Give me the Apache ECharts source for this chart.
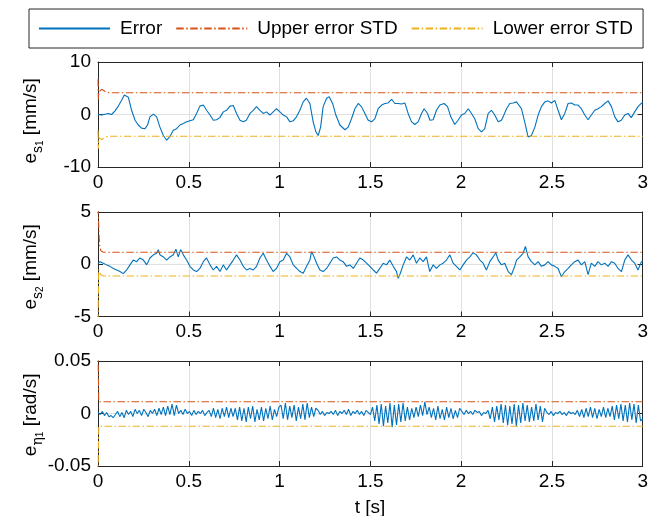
<!DOCTYPE html>
<html>
<head>
<meta charset="utf-8">
<script src="https://cdn.jsdelivr.net/npm/echarts@6/dist/echarts.min.js"></script>
<style>
  html, body { margin: 0; padding: 0; background: #fff; }
  #chart { width: 651px; height: 516px; }
</style>
</head>
<body>
<div id="chart"></div>
<script>
// ---- e_s1 velocity error [mm/s] ----
const s1Time = [0, 0.006, 0.020, 0.039, 0.057, 0.075, 0.094, 0.112, 0.130, 0.145, 0.152, 0.167, 0.185, 0.204, 0.222, 0.240, 0.259, 0.273, 0.286, 0.305, 0.323, 0.341, 0.360, 0.378, 0.396, 0.415, 0.433, 0.451, 0.470, 0.488, 0.506, 0.525, 0.543, 0.561, 0.580, 0.598, 0.617, 0.635, 0.653, 0.671, 0.690, 0.708, 0.727, 0.745, 0.763, 0.782, 0.800, 0.817, 0.837, 0.855, 0.873, 0.892, 0.910, 0.928, 0.947, 0.965, 0.983, 1.002, 1.020, 1.039, 1.057, 1.075, 1.093, 1.112, 1.130, 1.148, 1.167, 1.185, 1.200, 1.213, 1.226, 1.240, 1.259, 1.273, 1.292, 1.310, 1.332, 1.360, 1.378, 1.396, 1.415, 1.433, 1.451, 1.470, 1.488, 1.507, 1.525, 1.543, 1.562, 1.580, 1.598, 1.617, 1.635, 1.653, 1.672, 1.690, 1.708, 1.727, 1.745, 1.763, 1.782, 1.796, 1.815, 1.828, 1.846, 1.864, 1.883, 1.906, 1.925, 1.943, 1.965, 1.983, 2.002, 2.020, 2.039, 2.057, 2.075, 2.094, 2.112, 2.130, 2.149, 2.167, 2.185, 2.204, 2.222, 2.231, 2.250, 2.268, 2.286, 2.305, 2.314, 2.332, 2.350, 2.369, 2.387, 2.406, 2.424, 2.442, 2.461, 2.479, 2.497, 2.516, 2.534, 2.552, 2.571, 2.589, 2.607, 2.626, 2.644, 2.662, 2.681, 2.699, 2.717, 2.736, 2.754, 2.772, 2.791, 2.809, 2.828, 2.846, 2.864, 2.882, 2.901, 2.919, 2.937, 2.956, 2.974, 2.992, 3.0];
const s1Err = [0.0, 0.2, -0.1, 0.06, 0.2, 0.0, 0.7, 1.6, 2.7, 3.7, 4.0, 3.3, 0.8, -1.1, -2.0, -2.6, -2.7, -2.0, -0.45, 0.06, -0.45, -2.4, -4.0, -4.9, -4.2, -3.0, -2.7, -2.0, -1.7, -1.4, -1.2, -1.0, 0.2, 1.6, 1.8, 0.8, -0.1, -1.1, -1.0, -0.6, 0.5, 0.8, 1.6, 1.7, 0.2, -1.1, -1.4, -1.1, 0.2, 0.8, 1.5, 0.8, 0.2, 0.5, -0.1, 0.5, 1.1, 0.5, -0.1, -0.45, -1.4, -1.2, -0.45, 0.8, 2.4, 3.1, 2.1, -1.4, -3.3, -4.0, -2.4, 1.5, 3.1, 3.4, 2.1, -0.1, -2.0, -2.9, -2.4, -0.8, 1.1, 2.1, 1.5, 0.2, -1.1, -1.4, -0.8, 1.1, 1.8, 2.1, 2.2, 2.9, 2.1, 2.1, 2.0, 2.2, 0.2, -1.4, -1.9, -1.4, 0.2, 1.1, 0.2, -1.1, -1.0, 0.8, 1.8, 2.1, 1.5, -0.45, -1.9, -1.1, -0.1, 0.2, 1.1, 0.2, -0.8, -2.7, -3.3, -2.7, 0.2, 0.8, -0.1, -1.4, -1.1, -0.45, 1.1, 2.1, 2.2, 2.4, 2.1, 1.1, -1.4, -4.3, -4.0, -2.4, -0.1, 1.5, 2.4, 2.6, 2.2, 2.7, 0.8, -1.0, 0.2, 2.1, 2.2, 1.8, 1.8, 1.1, -0.1, -1.0, -0.1, 0.8, 1.1, 1.5, 2.1, 2.6, 1.5, -0.45, -1.4, -1.1, -0.1, 0.2, -0.6, 0.5, 1.5, 2.1, 2.3];
const s1UpperTime = [0, 0.002, 0.006, 0.020, 0.040, 0.060, 3.0];
const s1Upper = [6.7, 2.9, 4.3, 4.8, 4.4, 4.15, 4.15];
const s1LowerTime = [0, 0.002, 0.006, 0.020, 0.040, 0.060, 3.0];
const s1Lower = [-3.0, -6.5, -4.4, -4.8, -4.3, -4.15, -4.15];

// ---- e_s2 velocity error [mm/s] ----
const s2Time = [0, 0.011, 0.029, 0.048, 0.066, 0.084, 0.103, 0.121, 0.139, 0.158, 0.176, 0.194, 0.213, 0.231, 0.250, 0.268, 0.286, 0.305, 0.323, 0.332, 0.341, 0.360, 0.378, 0.396, 0.415, 0.429, 0.442, 0.455, 0.470, 0.488, 0.506, 0.525, 0.543, 0.561, 0.580, 0.598, 0.617, 0.635, 0.653, 0.672, 0.690, 0.708, 0.727, 0.745, 0.763, 0.782, 0.800, 0.818, 0.837, 0.855, 0.873, 0.892, 0.910, 0.928, 0.947, 0.965, 0.983, 1.002, 1.020, 1.039, 1.048, 1.057, 1.075, 1.094, 1.112, 1.130, 1.149, 1.167, 1.176, 1.185, 1.204, 1.222, 1.240, 1.259, 1.277, 1.295, 1.314, 1.332, 1.350, 1.369, 1.387, 1.406, 1.424, 1.442, 1.461, 1.479, 1.497, 1.516, 1.534, 1.552, 1.571, 1.589, 1.607, 1.626, 1.644, 1.653, 1.662, 1.681, 1.699, 1.717, 1.736, 1.754, 1.772, 1.791, 1.809, 1.827, 1.846, 1.864, 1.883, 1.901, 1.919, 1.938, 1.956, 1.974, 1.993, 2.011, 2.029, 2.048, 2.066, 2.084, 2.103, 2.121, 2.139, 2.158, 2.176, 2.191, 2.204, 2.222, 2.240, 2.259, 2.277, 2.295, 2.305, 2.323, 2.341, 2.354, 2.369, 2.387, 2.406, 2.424, 2.442, 2.461, 2.479, 2.497, 2.516, 2.534, 2.552, 2.571, 2.589, 2.607, 2.626, 2.644, 2.662, 2.681, 2.699, 2.717, 2.736, 2.754, 2.772, 2.791, 2.809, 2.828, 2.846, 2.864, 2.883, 2.901, 2.919, 2.938, 2.956, 2.974, 2.993, 3.0];
const s2Err = [0.05, 0.25, 0.1, -0.06, -0.2, -0.4, -0.55, -0.7, -0.9, -0.55, -0.06, 0.4, 0.25, 0.6, 0.4, -0.06, 0.6, 0.9, 1.05, 1.4, 0.9, 0.7, 0.4, 0.7, 0.9, 1.45, 0.7, 1.4, 0.9, 0.4, -0.2, -0.55, -0.7, -0.4, 0.25, 0.6, -0.06, -0.55, -0.2, -0.7, -0.06, -0.55, -0.06, 0.4, 0.9, 0.4, -0.2, -0.55, -0.4, -0.55, -0.2, 0.6, 1.05, 0.4, -0.2, -0.7, -0.4, 0.25, 0.4, 1.05, 1.2, 0.7, -0.06, -0.4, -0.7, -0.85, -0.2, 0.4, 1.2, 0.9, 0.1, -0.55, -0.7, -0.4, 0.1, 0.6, 0.7, 0.4, 0.25, -0.2, -0.06, -0.4, 0.1, 0.6, 0.4, 0.1, -0.2, -0.55, -0.85, -0.4, 0.1, -0.06, 0.4, -0.2, -0.7, -1.35, -1.0, -0.06, 0.7, 0.4, 0.9, 0.1, 0.6, 0.25, 0.7, -0.7, -0.06, -0.4, -0.06, 0.1, 0.4, 0.9, 0.1, -0.2, -0.55, -0.06, 0.4, 0.7, 1.1, 0.9, 0.4, 0.1, -0.55, 0.25, 0.7, 1.1, 0.4, -0.06, 0.1, -0.7, -1.0, -0.2, 0.4, 0.7, 1.05, 1.7, 0.7, 0.25, -0.06, 0.25, -0.2, -0.06, 0.25, -0.06, -0.2, -0.4, -1.2, -0.7, -0.4, -0.06, 0.25, 0.4, -0.06, 0.25, -1.0, 0.1, -0.2, 0.25, -0.06, 0.1, -0.2, 0.25, 0.1, -0.4, -0.7, 0.4, 0.9, 0.4, 0.1, -0.55, 0.25, 0.3];
const s2UpperTime = [0, 0.008, 0.015, 0.030, 3.0];
const s2Upper = [5.5, 2.0, 1.3, 1.15, 1.15];
const s2LowerTime = [0, 0.004, 0.015, 0.030, 3.0];
const s2Lower = [-5.5, -0.5, -1.0, -1.12, -1.12];

// ---- e_eta1 angular velocity error, in 1e-3 rad/s, sampled every etaStep seconds ----
const etaStep = 0.012;
const etaErrMilli = [
  1, -1, 2, -2, 1, -3, -2, -4, -1,
  2, -3, 1, -4, 3, -1, 2, -3, 4, 0, 3, -2, 4, 1, -3, 3, 0,
  4, -2, 5, -1, 6, -2, 7, -1, 9, -2, 8, 0,
  3, -1, 4, 0, 2, -2, 3, -1, 2, 0, 3, -2, 1,
  3, -3, 5, -4, 4, -5, 5, -3, 6, -4, 5, -3,
  5, -6, 6, -7, 5, -8, 6, -5, 7, -8, 4, -6, 6, -7, 5, -5, 7, -6, 4, -3, 6,
  8, -5, 10, -6, 7, -4, 8, -7, 6, -5, 9, -6, 10, -4, 6, -3, 5,
  3, -1, 2, -2, 1, 0, 2, -1, 3, -2, 2, 0, 3, -1, 4, -2, 2, 0, 3, -1, 2, -2, 3,
  1, -1,
  6, -7, 8, -10, 9, -12, 7, -9, 10, -13, 8, -11, 9, -8, 10, -7, 6, -6,
  5, -4, 6, -3, 8, -2, 11, -1,
  6, -4, 5, -6, 7, -5, 4, -6, 6, -4, 5, -5, 3, -4, 5,
  2, -1, 3, 0, 2, -1, 3, 1, 2, -2, 1, 0,
  3, -5, 6, -8, 7, -6, 9, -9, 8, -11, 7, -10, 9, -12, 8, -9, 10, -7, 8, -8, 6, -7, 9, -6, 7, -8, 5,
  1, -1, 2, -2, 1, 0, 2, -1, 1, -2, 2, 0, 1, -1,
  3, -3, 4, -4, 5, -3, 6, -4, 5, -5, 4, -3, 6, -4, 5, -3,
  7, -6, 8, -5, 9, -7, 8, -8, 10, -6, 9, -9, 8, -7, -5
];
const etaUpperTime = [0, 0.004, 3.0];
const etaUpper = [0.06, 0.0112, 0.0112];
const etaLowerTime = [0, 0.004, 3.0];
const etaLower = [-0.06, -0.0122, -0.0122];

// ---- axes ----
const xTicks = { min: 0, max: 3, interval: 0.5 };
const yRanges = [
  { min: -10, max: 10, interval: 10 },
  { min: -5, max: 5, interval: 5 },
  { min: -0.05, max: 0.05, interval: 0.05 }
];
const seriesNames = ['Error', 'Upper error STD', 'Lower error STD'];

// ---- styling ----
const FONT = '"Liberation Sans", Arial, Helvetica, sans-serif';
const FS = 19;
const AXIS_COLOR = '#262626';
const GRID_COLOR = '#e0e0e0';
const COLORS = ['#0072BD', '#D95319', '#EDB120'];
const DASH_DOT = [7.5, 2.5, 1.5, 2.5];

const zip = (t, v) => t.map((x, i) => [x, v[i]]);
const etaTime = etaErrMilli.map((_, i) => Math.min(3, i * etaStep));
const etaErr = etaErrMilli.map(v => v / 1000);

const panels = [
  { err: zip(s1Time, s1Err), up: zip(s1UpperTime, s1Upper), lo: zip(s1LowerTime, s1Lower) },
  { err: zip(s2Time, s2Err), up: zip(s2UpperTime, s2Upper), lo: zip(s2LowerTime, s2Lower) },
  { err: zip(etaTime, etaErr), up: zip(etaUpperTime, etaUpper), lo: zip(etaLowerTime, etaLower) }
];

const grids = [
  { left: 98, right: 8, top: 62, height: 105 },
  { left: 98, right: 8, top: 212, height: 104.5 },
  { left: 98, right: 8, top: 361, height: 105 }
];

const xAxes = [], yAxes = [], series = [];
grids.forEach((g, k) => {
  const line = { show: true, onZero: false, lineStyle: { color: AXIS_COLOR, width: 1 } };
  const tick = { show: true, inside: true, length: 5, lineStyle: { color: AXIS_COLOR, width: 1 } };
  xAxes.push({
    type: 'value', gridIndex: k, position: 'bottom', ...xTicks,
    axisLine: line, axisTick: tick,
    axisLabel: { show: true, margin: 6, color: '#000', fontSize: FS, fontFamily: FONT },
    splitLine: { show: true, lineStyle: { color: GRID_COLOR, width: 1 } }
  });
  xAxes.push({
    type: 'value', gridIndex: k, position: 'top', ...xTicks,
    axisLine: line, axisTick: tick, axisLabel: { show: false }, splitLine: { show: false }
  });
  yAxes.push({
    type: 'value', gridIndex: k, position: 'left', ...yRanges[k],
    axisLine: line, axisTick: tick,
    axisLabel: { show: true, margin: 7, color: '#000', fontSize: FS, fontFamily: FONT },
    splitLine: { show: true, lineStyle: { color: GRID_COLOR, width: 1 } }
  });
  yAxes.push({
    type: 'value', gridIndex: k, position: 'right', ...yRanges[k],
    axisLine: line, axisTick: tick, axisLabel: { show: false }, splitLine: { show: false }
  });
  const p = panels[k];
  [p.err, p.up, p.lo].forEach((d, j) => {
    series.push({
      type: 'line', name: seriesNames[j], data: d,
      xAxisIndex: 2 * k, yAxisIndex: 2 * k,
      symbol: 'none', showSymbol: false, silent: true,
      color: COLORS[j],
      lineStyle: { color: COLORS[j], width: 1.1, type: j === 0 ? 'solid' : DASH_DOT },
      z: 2 + j
    });
  });
});

// y-axis titles with nested subscripts
const subRich = (symFont) => ({
  e: { fontSize: FS, fontFamily: FONT, color: '#000', lineHeight: 18, verticalAlign: 'top' },
  u: { fontSize: FS, fontFamily: FONT, color: '#000', lineHeight: 18, verticalAlign: 'top' },
  s: { fontSize: 14, fontFamily: symFont, color: '#000', lineHeight: 20, verticalAlign: 'bottom' },
  n: { fontSize: 10, fontFamily: FONT, color: '#000', lineHeight: 10, verticalAlign: 'bottom' },
  pad: { fontSize: 1, lineHeight: 24, verticalAlign: 'top' }
});
const yTitle = (x, y, sym, idx, unit, symFont) => ({
  type: 'text', x: x, y: y, rotation: Math.PI / 2, silent: true,
  style: {
    text: '{pad| }{e|e}{s|' + sym + '}{n|' + idx + '}{u| ' + unit + '}',
    rich: subRich(symFont), align: 'center', verticalAlign: 'middle'
  }
});

const option = {
  animation: false,
  backgroundColor: '#fff',
  grid: grids,
  xAxis: xAxes,
  yAxis: yAxes,
  series: series,
  legend: {
    left: 29, top: 9,
    padding: [10, 10, 10, 9],
    borderColor: AXIS_COLOR, borderWidth: 1,
    backgroundColor: '#fff',
    itemWidth: 71, itemHeight: 14, itemGap: 13,
    itemStyle: { opacity: 0, borderWidth: 0 },
    textStyle: { fontSize: FS, color: '#000', fontFamily: FONT, padding: [0, 0, 0, 5] },
    data: seriesNames
  },
  graphic: [
    yTitle(33, 121, 's', '1', '[mm/s]', FONT),
    yTitle(33, 267, 's', '2', '[mm/s]', FONT),
    yTitle(33, 415, 'η', '1', '[rad/s]', '"DejaVu Serif", serif'),
    {
      type: 'text', x: 370, y: 508, silent: true,
      style: { text: 't [s]', fontSize: FS, fontFamily: FONT, fill: '#000', align: 'center', verticalAlign: 'middle' }
    }
  ]
};

const chart = echarts.init(document.getElementById('chart'), null, { renderer: 'canvas' });
chart.setOption(option);
</script>
</body>
</html>
